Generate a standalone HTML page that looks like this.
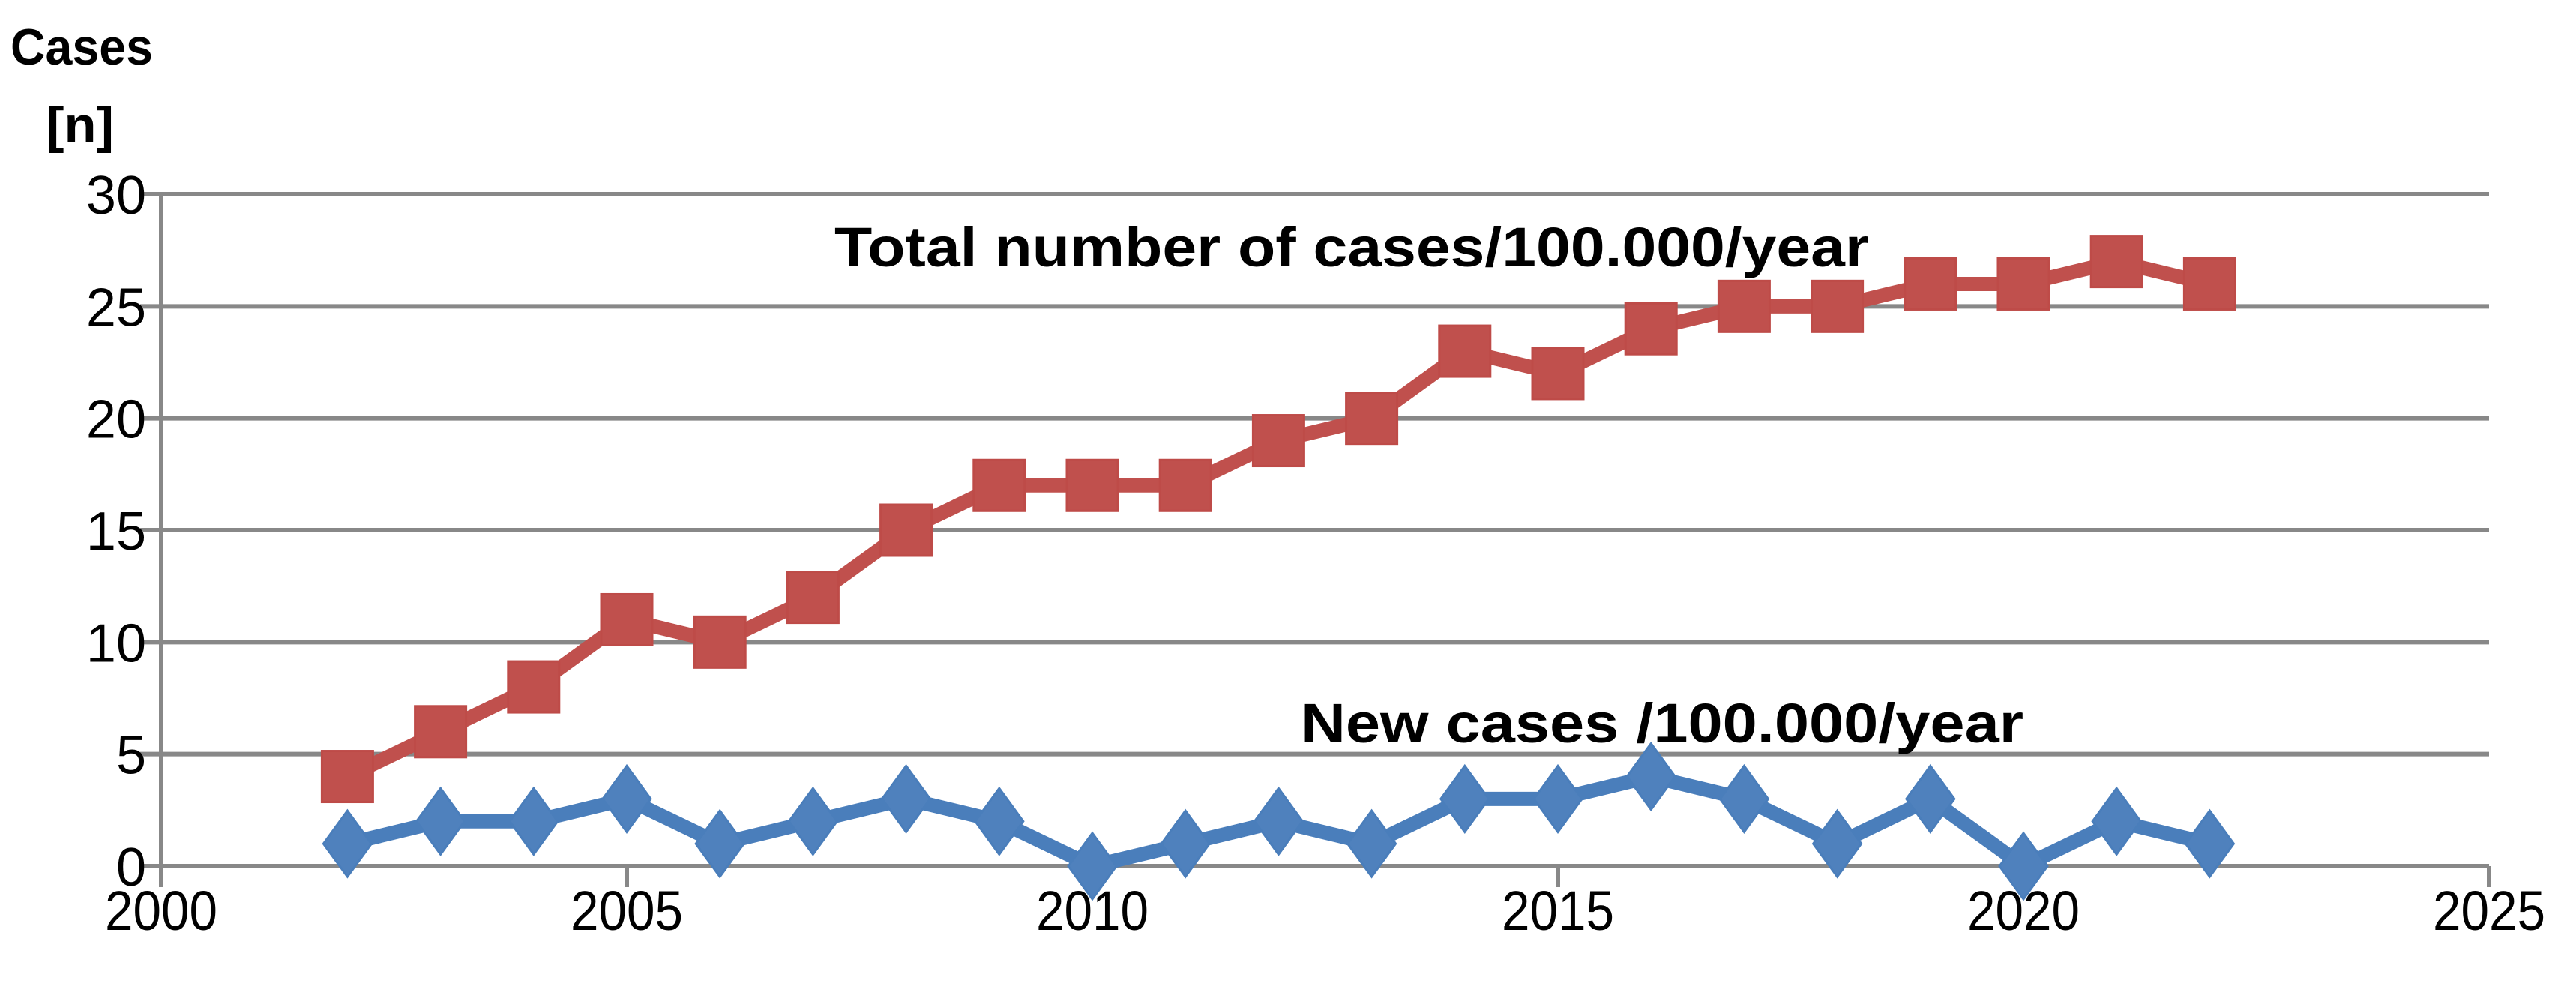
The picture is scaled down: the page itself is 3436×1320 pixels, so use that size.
<!DOCTYPE html>
<html><head><meta charset="utf-8"><style>
html,body{margin:0;padding:0;background:#fff;}
svg{display:block;font-family:"Liberation Sans",sans-serif;}
</style></head><body>
<svg id="chart" width="3436" height="1320" viewBox="0 0 3436 1320" xmlns="http://www.w3.org/2000/svg">
<text x="14" y="86" font-size="68" font-weight="bold" textLength="190" lengthAdjust="spacingAndGlyphs">Cases</text>
<text x="62" y="190" font-size="68" font-weight="bold" textLength="90" lengthAdjust="spacingAndGlyphs">[n]</text>
<g id="grid"></g><g id="axes"></g><g id="series"></g>
<text x="1113" y="355" font-size="74" font-weight="bold" textLength="1380" lengthAdjust="spacingAndGlyphs">Total number of cases/100.000/year</text>
<text x="1735" y="990" font-size="74" font-weight="bold" textLength="964" lengthAdjust="spacingAndGlyphs">New cases /100.000/year</text>
</svg>
<script>
const years=[2002,2003,2004,2005,2006,2007,2008,2009,2010,2011,2012,2013,2014,2015,2016,2017,2018,2019,2020,2021,2022];
const totalCases=[4,6,8,11,10,12,15,17,17,17,19,20,23,22,24,25,25,26,26,27,26];
const newCases=[1,2,2,3,1,2,3,2,0,1,2,1,3,3,4,3,1,3,0,2,1];
const yTicks=[0,5,10,15,20,25,30];
const xTicks=[2000,2005,2010,2015,2020,2025];
const NS="http://www.w3.org/2000/svg";
const X0=215,X1=3320,Y0=1155,Y1=259;
const xs=v=>X0+(v-2000)/25*(X1-X0);
const ys=v=>Y0-v/30*(Y0-Y1);
function mk(t,a,p){const e=document.createElementNS(NS,t);for(const k in a)e.setAttribute(k,a[k]);p.appendChild(e);return e;}
const grid=document.getElementById('grid'),axes=document.getElementById('axes'),ser=document.getElementById('series');
yTicks.forEach(v=>{
  const l=mk('line',{x1:X0-28,x2:X1,y1:ys(v),y2:ys(v),stroke:'#888',"stroke-width":6},grid);
  
  
  const t=mk('text',{x:195,y:ys(v)+26,"font-size":72,"text-anchor":"end"},axes);
  t.textContent=v;
  
  
});
const ya=mk('line',{x1:X0,x2:X0,y1:Y1,y2:Y0+28,stroke:'#888',"stroke-width":6},axes);


xTicks.forEach(v=>{
  const l=mk('line',{x1:xs(v),x2:xs(v),y1:Y0,y2:Y0+28,stroke:'#888',"stroke-width":6},axes);
  
  
  const t=mk('text',{x:xs(v),y:1240,"font-size":74,"text-anchor":"middle",textLength:150,lengthAdjust:"spacingAndGlyphs"},axes);
  t.textContent=v;
  
  
});
function line(vals,color,name){
  const pts=years.map((y,i)=>xs(y)+','+ys(vals[i])).join(' ');
  const p=mk('polyline',{points:pts,fill:'none',stroke:color,"stroke-width":19,"stroke-linejoin":"round"},ser);
  
  
}
line(totalCases,'#C0504D','total-cases');
line(newCases,'#4A7EBB','new-cases');
years.forEach((y,i)=>{
  const cx=xs(y),cy=ys(totalCases[i]);
  const r=mk('rect',{x:cx-34,y:cy-34,width:68,height:68,fill:'#C0504D',stroke:'#BE4B48',"stroke-width":3},ser);
  
  
  const bx=xs(y),by=ys(newCases[i]);
  const d=mk('polygon',{points:`${bx},${by-44} ${bx+32},${by} ${bx},${by+44} ${bx-32},${by}`,fill:'#4F81BD',stroke:'#4A7EBB',"stroke-width":3},ser);
  
  
});
</script>
</body></html>
